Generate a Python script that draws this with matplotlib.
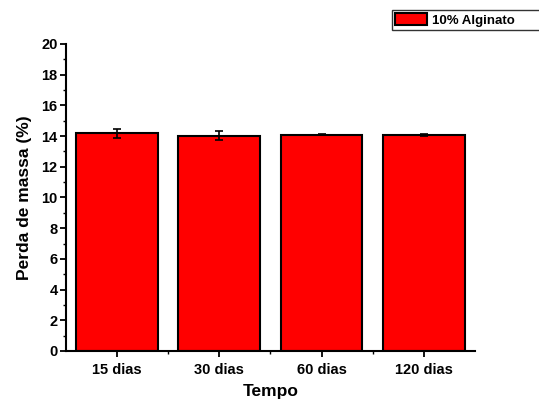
import numpy as np
import matplotlib.pyplot as plt
from matplotlib.ticker import MultipleLocator, FixedLocator

categorias = ['15 dias', '30 dias', '60 dias', '120 dias']
perda = [14.17, 14.03, 14.10, 14.05]
erro = [0.28, 0.29, 0.02, 0.07]

plt.rcParams['font.family'] = ['Liberation Sans', 'DejaVu Sans']
plt.rcParams['font.weight'] = 'bold'

fig = plt.figure(figsize=(5.39, 4.07), dpi=100)
ax = fig.add_axes([0.1224, 0.1376, 0.7588, 0.7543])

x = np.arange(1, len(categorias) + 1)
ax.bar(x, perda, width=0.8, color='#ff0000', edgecolor='black', linewidth=1.5,
       yerr=erro, capsize=3, error_kw=dict(elinewidth=1.2, capthick=1.2, ecolor='black'),
       label='10% Alginato')

ax.set_xlim(0.5, 4.5)
ax.set_ylim(0, 20)
ax.set_xticks(x)
ax.set_xticklabels(categorias, fontsize=10.5, fontweight='bold')
ax.xaxis.set_minor_locator(FixedLocator([1.5, 2.5, 3.5]))
ax.yaxis.set_major_locator(MultipleLocator(2))
ax.yaxis.set_minor_locator(MultipleLocator(1))
for lab in ax.get_yticklabels():
    lab.set_fontsize(10.5)
    lab.set_fontweight('bold')
ax.tick_params(which='major', direction='out', length=4, width=1.3, pad=2)
ax.tick_params(which='minor', direction='out', length=2, width=1.0)
ax.tick_params(axis='x', pad=5)

for s in ['top', 'right']:
    ax.spines[s].set_visible(False)
for s in ['left', 'bottom']:
    ax.spines[s].set_linewidth(1.5)

ax.set_xlabel('Tempo', fontsize=12.5, fontweight='bold', labelpad=5)
ax.set_ylabel('Perda de massa (%)', fontsize=12.5, fontweight='bold', labelpad=7)

leg = fig.legend(loc='upper left', mode='expand',
                 bbox_to_anchor=(392 / 539, 1 - 31 / 407, 150 / 539, 21 / 407),
                 fontsize=9.5, frameon=True, fancybox=False, edgecolor='black',
                 handlelength=2.4, handleheight=1.0, borderpad=0.25,
                 borderaxespad=0, handletextpad=0.35)
leg.get_frame().set_linewidth(1.0)
for t in leg.get_texts():
    t.set_fontweight('bold')

fig.savefig('out.png', dpi=100)
